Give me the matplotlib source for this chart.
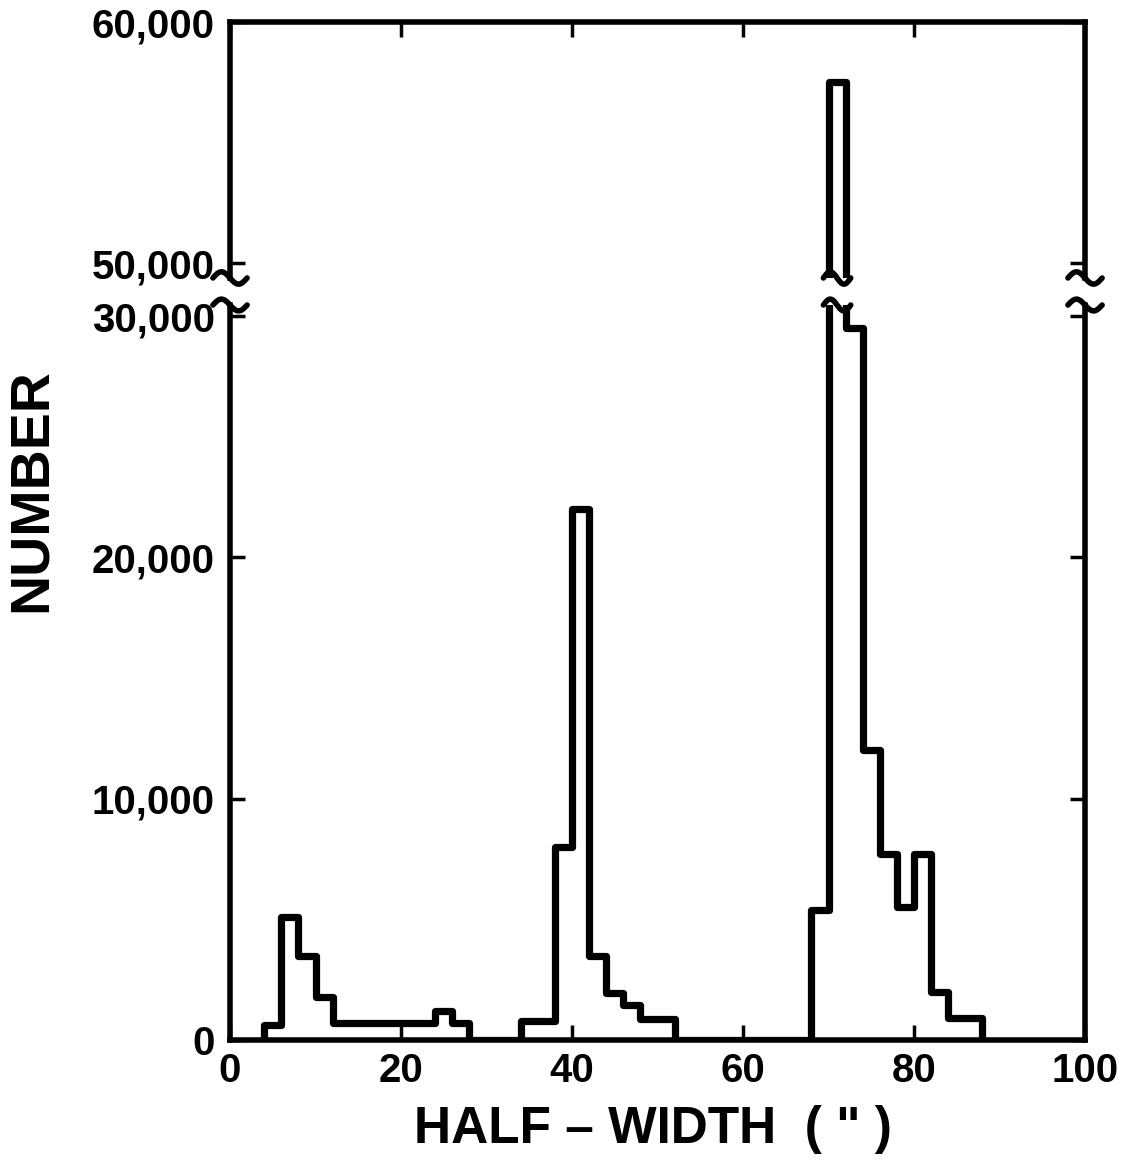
import matplotlib
matplotlib.use("Agg")
import matplotlib.pyplot as plt
import numpy as np
from matplotlib.ticker import FuncFormatter
from matplotlib.transforms import blended_transform_factory

plt.rcParams['font.family'] = ['Liberation Sans', 'DejaVu Sans']
plt.rcParams['font.weight'] = 'bold'

# histogram: bins of 2" from 4" to 88"
bin_edges = np.arange(4, 90, 2)
counts = [600, 5100, 3500, 1800, 700, 700, 700, 700, 700, 700, 1200, 700,
          0, 0, 0, 800, 800, 8000, 22000, 3500, 1950, 1450, 850, 850,
          0, 0, 0, 0, 0, 0, 0, 0, 5400, 57500, 29500, 12000, 7700, 5500,
          7700, 2000, 900, 900]

x_ticks = [0, 20, 40, 60, 80, 100]
y_ticks_low = [0, 10000, 20000, 30000]
y_ticks_high = [50000, 60000]
low_lim = (0, 30460)
high_lim = (49380, 60000)
break_x = 71  # the tall bar that crosses the break

fig = plt.figure(figsize=(11.28, 11.66), dpi=100)
ax_top = fig.add_axes([0.2039, 0.7616, 0.758, 0.2195])
ax_bot = fig.add_axes([0.2039, 0.1081, 0.758, 0.6303])

fmt = FuncFormatter(lambda v, p: f'{v:,.0f}')
for ax in (ax_top, ax_bot):
    ax.stairs(counts, bin_edges, color='black', linewidth=5.2, baseline=0,
              joinstyle='round', capstyle='round')
    ax.set_xlim(0, 100)
    ax.set_xticks(x_ticks)
    ax.yaxis.set_major_formatter(fmt)
    ax.tick_params(direction='in', length=11, width=2.5, labelsize=29,
                   left=True, right=True, top=True, bottom=True, pad=11)
    for s in ax.spines.values():
        s.set_linewidth(4)

ax_top.set_ylim(*high_lim)
ax_top.set_yticks(y_ticks_high)
ax_top.spines['bottom'].set_visible(False)
ax_top.tick_params(labelbottom=False, bottom=False)

ax_bot.set_ylim(*low_lim)
ax_bot.set_yticks(y_ticks_low)
ax_bot.spines['top'].set_visible(False)
ax_bot.tick_params(top=False, pad=9, axis='x')


def tilde(ax, xc, y_axes, half_w, amp):
    tr = blended_transform_factory(ax.transData, ax.transAxes)
    t = np.linspace(0, 1, 40)
    ax.plot(xc - half_w + 2 * half_w * t, y_axes + amp * np.sin(2 * np.pi * t),
            color='black', linewidth=4, transform=tr, clip_on=False,
            solid_capstyle='round')


for xc in (0, 100):
    tilde(ax_top, xc, 0.0, 2.0, 0.024)
    tilde(ax_bot, xc, 1.0, 2.0, 0.008)
tilde(ax_top, break_x, 0.0, 1.6, 0.024)
tilde(ax_bot, break_x, 1.0, 1.6, 0.008)

fig.text(0.028, 0.58, 'NUMBER', rotation=90, ha='center', va='center',
         fontsize=40, fontweight='bold')
fig.text(0.579, 0.031, 'HALF – WIDTH  ( " )', ha='center', va='center',
         fontsize=37, fontweight='bold')

fig.savefig('out.png', dpi=100)
